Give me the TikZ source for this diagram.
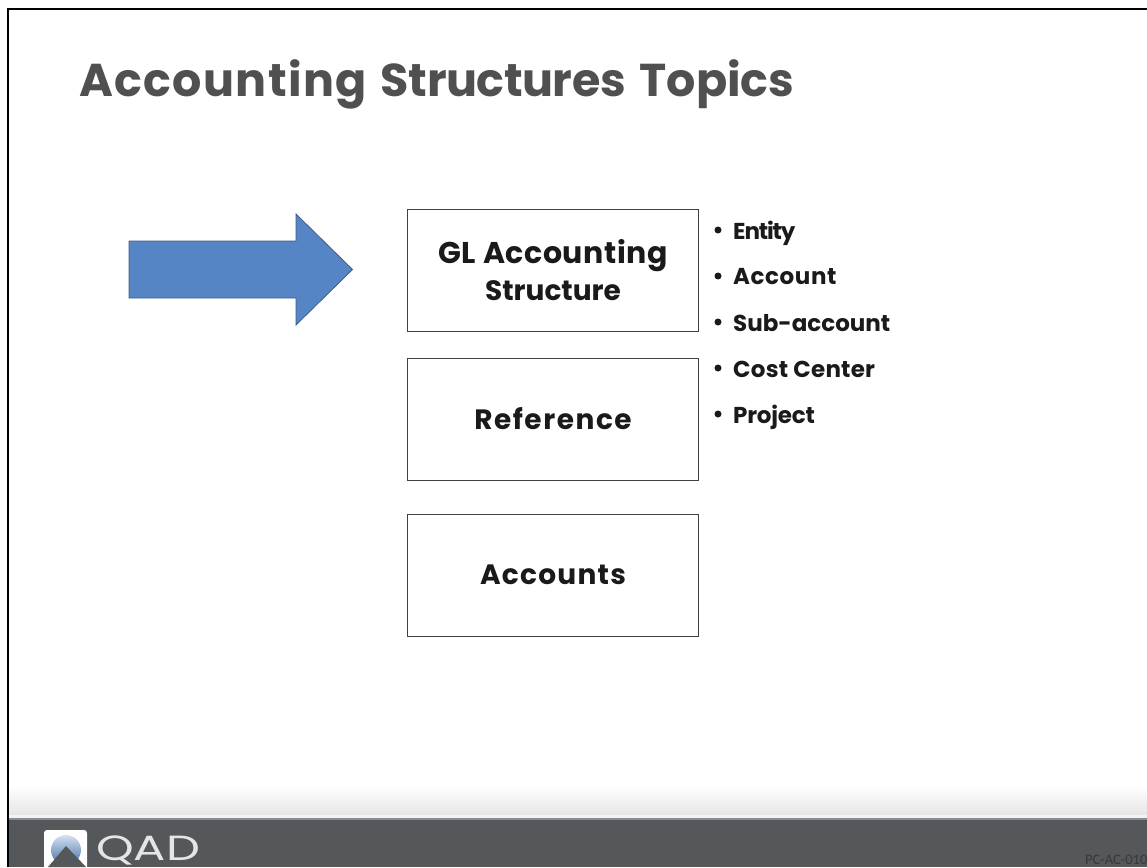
\documentclass[tikz,border=0pt]{standalone}
\usepackage{fontspec}
\setmainfont{Poppins}
\newfontfamily\footfont{Carlito}
\definecolor{titlegrey}{HTML}{505050}
\definecolor{footgrey}{HTML}{54585A}
\definecolor{arrowblue}{HTML}{5585C4}
\definecolor{arrowedge}{HTML}{3F5F8A}
\definecolor{boxedge}{HTML}{404040}
\definecolor{inktext}{HTML}{1A1A1A}
\newcommand{\lsp}[2]{{\addfontfeature{LetterSpace=#1}#2}}
\tikzset{
 topicbox/.style={draw=boxedge,line width=1pt,fill=white,minimum width=291pt,minimum height=122pt,inner sep=0pt,align=center,font=\fontsize{28}{38}\selectfont\bfseries,text=inktext},
 bullettext/.style={anchor=base west,inner sep=0pt,font=\fontsize{23}{27}\selectfont\bfseries,text=inktext},
 bulletdot/.style={circle,fill=inktext,inner sep=0pt,minimum size=7pt}
}
\begin{document}
\begin{tikzpicture}[x=1pt,y=-1pt]
\useasboundingbox (0,0) rectangle (1147,867);
\fill[white] (0,0) rectangle (1147,867);
\shade[top color=white,bottom color=black!10] (9,785) rectangle (1147,815);
\fill[white!95!blue] (9,815) rectangle (1147,818);
\fill[footgrey] (9,818) rectangle (1147,867);
\fill[black!45] (9,818) rectangle (1147,820);
\draw[black,line width=2.6pt] (8,867) -- (8,9) -- (1147,9);
\node[anchor=base west,inner sep=0pt,text=titlegrey,font=\fontsize{46}{50}\selectfont\bfseries] (title) at (79,96) {\lsp{3}{Accounting}\hspace*{14pt}\lsp{-1}{Structures}\hspace*{14pt}Topics};
\node[topicbox] (gl) at (553,270) {\raisebox{1pt}{\fontsize{30}{38}\selectfont\lsp{1.8}{GL Accounting}}\\[-1.5pt]Structure};
\node[topicbox] (ref) at (553,419) {\lsp{5.5}{Reference}};
\node[topicbox] (acc) at (553,575) {\raisebox{-1pt}{\lsp{4.5}{Accounts}}};
\filldraw[fill=arrowblue,draw=arrowedge,line width=0.8pt,line join=miter] (129,241) -- (296,241) -- (296,214) -- (352.500,269.500) -- (296,325) -- (296,298) -- (129,298) -- cycle;
\node[bulletdot] (d1) at (718,230) {};
\node[bulletdot] (d2) at (718,276) {};
\node[bulletdot] (d3) at (718,322) {};
\node[bulletdot] (d4) at (718,368) {};
\node[bulletdot] (d5) at (718,414) {};
\node[bullettext] (b1) at (733,239) {\lsp{-5}{Entity}};
\node[bullettext] (b2) at (733,284) {\lsp{2.5}{Account}};
\node[bullettext] (b3) at (733,331) {Sub-account};
\node[bullettext] (b4) at (733,377) {\lsp{1}{Cost Center}};
\node[bullettext] (b5) at (733,423) {\lsp{-1}{Project}};
\begin{scope}
\clip (44,830) rectangle (87,867);
\fill[white,rounded corners=3pt] (44,830) rectangle (87,875);
\shade[top color=arrowblue!25!white,bottom color=arrowblue!85!black] (66,850) circle (15pt);
\fill[footgrey] (66,846) -- (86,867) -- (48,867) -- cycle;
\end{scope}
\node[anchor=base west,inner sep=0pt,text=white!90!black,font=\fontsize{35}{36}\selectfont] (logo) at (96,860) {\scalebox{1.37}[1]{QAD}};
\node[anchor=base west,inner sep=0pt,text=black!78,font=\footfont\fontsize{14.5}{15}\selectfont] (code) at (1085,864) {PC-AC-010};
\end{tikzpicture}
\end{document}
